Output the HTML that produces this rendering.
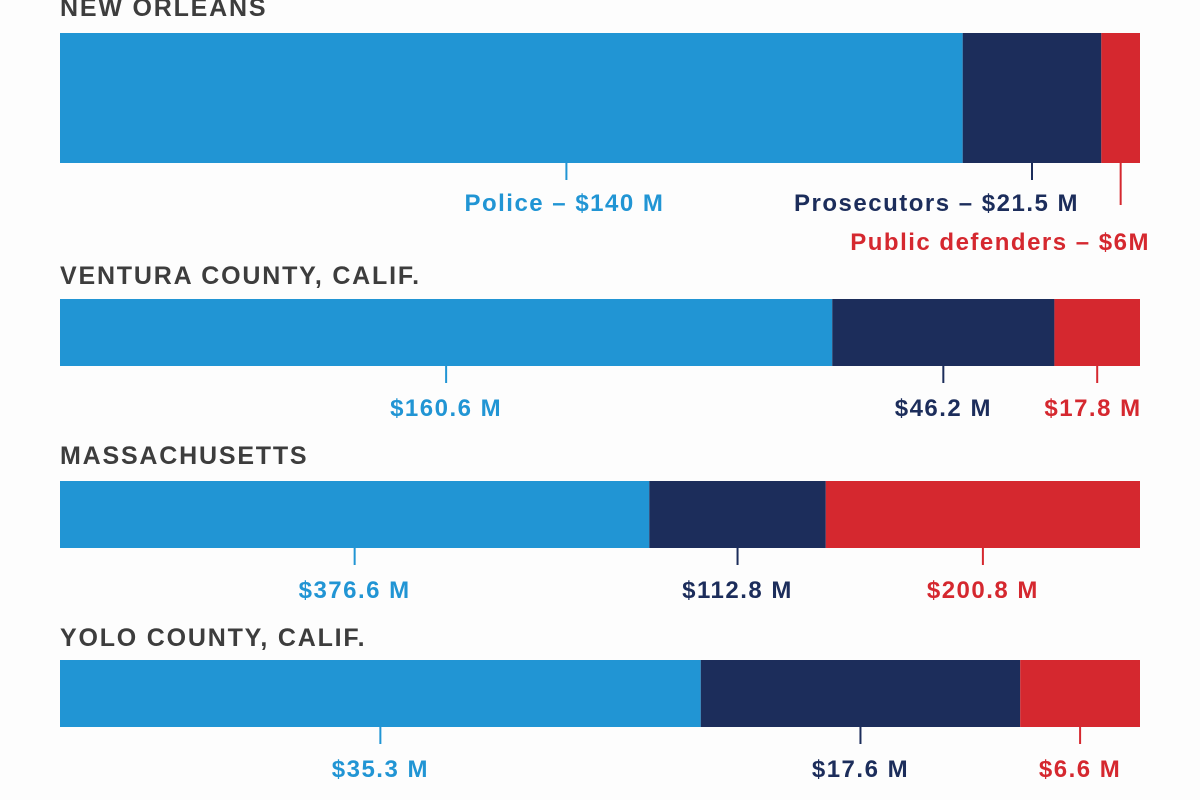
<!DOCTYPE html>
<html><head><meta charset="utf-8"><style>
html,body{margin:0;padding:0;background:#fdfdfd;}
svg{display:block;font-family:"Liberation Sans",sans-serif;}
</style></head><body>
<svg id="chart" width="1200" height="800" viewBox="0 0 1200 800"></svg>
<script>
const regions = ["NEW ORLEANS","VENTURA COUNTY, CALIF.","MASSACHUSETTS","YOLO COUNTY, CALIF."];
const police = [140, 160.6, 376.6, 35.3];
const prosecutors = [21.5, 46.2, 112.8, 17.6];
const defenders = [6, 17.8, 200.8, 6.6];
const policeLabels = ["Police – $140 M","$160.6 M","$376.6 M","$35.3 M"];
const prosLabels = ["Prosecutors – $21.5 M","$46.2 M","$112.8 M","$17.6 M"];
const defLabels = ["Public defenders – $6M","$17.8 M","$200.8 M","$6.6 M"];

const colors = ["#2195d4","#1c2d5b","#d5282f"];
const rows = [
  {barY:33,barH:130,titleY:16},
  {barY:299,barH:67,titleY:284},
  {barY:481,barH:67,titleY:464},
  {barY:660,barH:67,titleY:646}
];
const X0=60, W=1080;
const svg=document.getElementById('chart');
const NS="http://www.w3.org/2000/svg";
function mk(tag,attrs){const e=document.createElementNS(NS,tag);for(const k in attrs)e.setAttribute(k,attrs[k]);svg.appendChild(e);return e;}

regions.forEach((name,i)=>{
  const r=rows[i];
  const vals=[police[i],prosecutors[i],defenders[i]];
  const labels=[policeLabels[i],prosLabels[i],defLabels[i]];
  const total=vals.reduce((a,b)=>a+b,0);
  const sx=v=>v/total*W;
  const t=mk('text',{x:X0,y:r.titleY,'font-size':25,'font-weight':'bold',fill:'#3d3d3d','letter-spacing':1.8});
  t.textContent=name;
  
  
  let acc=0;
  vals.forEach((v,j)=>{
    const x=X0+sx(acc), w=sx(v);
    const b=mk('rect',{x:x,y:r.barY,width:w,height:r.barH,fill:colors[j]});
    
    
    let cx=x+w/2;
    const by=r.barY+r.barH;
    let tickLen=17, ly=by+50, anchor='middle', lx=cx;
    if(i===0){
      if(j===0){ly=by+48;cx=x+w*0.561;lx=cx-2;}
      if(j===1){anchor='end';lx=1079;ly=by+48;}
      if(j===2){anchor='end';lx=1150;ly=by+87;tickLen=42;}
    } else {
      const est=labels[j].length*14;
      if(cx+est/2>1142){lx=1142-est/2;}
    }
    const tk=mk('line',{x1:cx,x2:cx,y1:by,y2:by+tickLen,stroke:colors[j],'stroke-width':2});
    
    
    const lt=mk('text',{x:lx,y:ly,'font-size':24,'font-weight':'bold',fill:colors[j],'text-anchor':anchor,'letter-spacing':1.5});
    lt.textContent=labels[j];
    
    
    acc+=v;
  });
});
</script>
</body></html>
